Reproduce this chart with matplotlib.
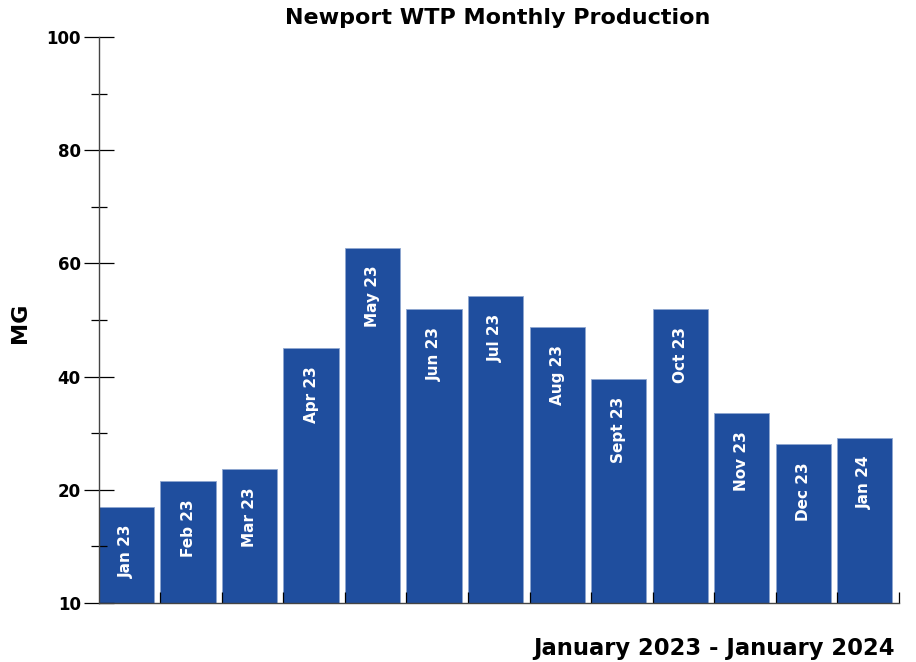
import numpy as np
import matplotlib.pyplot as plt

# Monatsproduktion (MG)
months = ['Jan 23', 'Feb 23', 'Mar 23', 'Apr 23', 'May 23', 'Jun 23', 'Jul 23',
          'Aug 23', 'Sept 23', 'Oct 23', 'Nov 23', 'Dec 23', 'Jan 24']
production = [17.0, 21.6, 23.7, 45.0, 62.8, 52.0, 54.3, 48.7, 39.6, 52.0, 33.6, 28.1, 29.2]

y_ticks = [0, 20, 40, 60, 80, 100]
y_tick_labels = ['10', '20', '40', '60', '80', '100']

plt.rcParams['font.family'] = ['DejaVu Sans']

fig = plt.figure(figsize=(9.16, 6.62), dpi=100)
ax = fig.add_axes([0.108, 0.089, 0.873, 0.855])

x = np.arange(len(months))
bars = ax.bar(x, production, width=0.9, align='edge', color='#1f4e9e',
              edgecolor='#8fa6d0', linewidth=0.6)

# Beschriftung in den Balken
for xi, val, name in zip(x, production, months):
    ax.annotate(name, (xi + 0.45, val), xytext=(0, -13), textcoords='offset points',
                rotation=90, ha='center', va='top', color='white',
                fontsize=11, fontweight='bold')

ax.set_xlim(0, len(months))
ax.set_ylim(0, 100)
ax.set_yticks(y_ticks)
ax.set_yticklabels(y_tick_labels, fontsize=12, fontweight='bold')
ax.set_yticks([10, 30, 50, 70, 90], minor=True)
ax.tick_params(axis='y', which='major', direction='inout', length=22, width=0.9, pad=2)
ax.tick_params(axis='y', which='minor', direction='inout', length=12, width=0.9)

ax.set_xticks(np.arange(1, len(months) + 1))
ax.set_xticklabels([])
ax.tick_params(axis='x', which='major', direction='in', length=8, width=0.9)

for side in ['top', 'right']:
    ax.spines[side].set_visible(False)
for side in ['left', 'bottom']:
    ax.spines[side].set_color('#444444')
    ax.spines[side].set_linewidth(1.0)

fig.text(0.543, 0.973, 'Newport WTP Monthly Production', ha='center', va='center',
         fontsize=16, fontweight='bold')
fig.text(0.977, 0.021, 'January 2023 - January 2024', ha='right', va='center',
         fontsize=16.3, fontweight='bold')
fig.text(0.022, 0.513, 'MG', ha='center', va='center', rotation=90,
         fontsize=16, fontweight='bold')

plt.savefig('out.png', dpi=100)
